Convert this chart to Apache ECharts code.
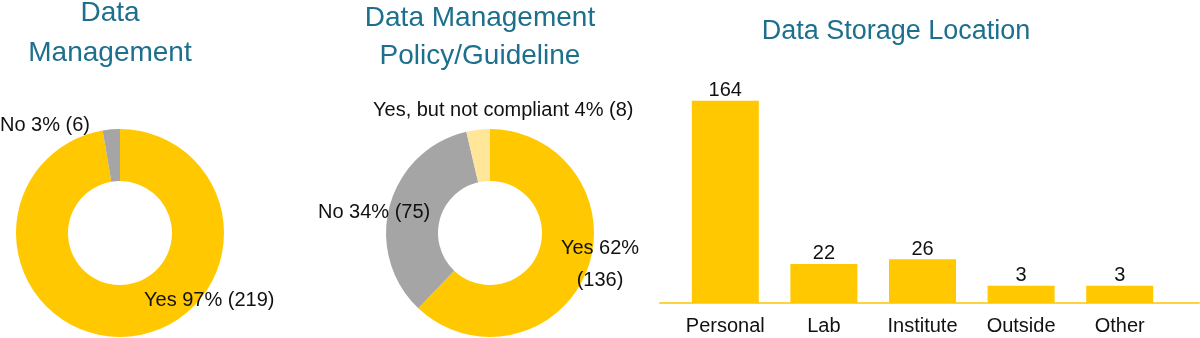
<!DOCTYPE html>
<html><head><meta charset="utf-8">
<script src="https://cdn.jsdelivr.net/npm/echarts@6/dist/echarts.min.js"></script>
<style>html,body{margin:0;padding:0;background:#fff}#c{width:1200px;height:338px}</style>
</head><body><div id="c"></div>
<script>
// ---- data ----
const dmCategories = ['Yes', 'No'];
const dmValues = [219, 6];
const policyCategories = ['Yes', 'No', 'Yes, but not compliant'];
const policyValues = [136, 75, 8];
const storageCategories = ['Personal', 'Lab', 'Institute', 'Outside', 'Other'];
const storageValues = [164, 22, 26, 3, 3];

// ---- styles / layout ----
const FONT = '"Liberation Sans", Arial, sans-serif';
const TEAL = '#1d6f8e';
const YELLOW = '#FFC800';
const GRAY = '#A5A5A5';
const LIGHT = '#FFE699';
const TXT = '#111';

const dmColors = [YELLOW, GRAY];
const policyColors = [YELLOW, GRAY, LIGHT];
const dmLabelPos = [
  {x: 144, y: 300, align: 'left', verticalAlign: 'middle'},
  {x: 0, y: 125, align: 'left', verticalAlign: 'middle'}
];
const policyLabelPos = [
  {x: 600, y: 264, align: 'center', verticalAlign: 'middle'},
  {x: 318, y: 212, align: 'left', verticalAlign: 'middle'},
  {x: 373, y: 110, align: 'left', verticalAlign: 'middle'}
];
const policyBreak = [true, false, false];

function pieData(names, values, colors) {
  return names.map((n, i) => ({name: n, value: values[i], itemStyle: {color: colors[i]}}));
}
function pieFormatter(breaks) {
  return p => p.name + ' ' + Math.round(p.percent) + '%' + (breaks && breaks[p.dataIndex] ? '\n' : ' ') + '(' + p.value + ')';
}
function pieSeries(center, names, values, colors, layout, breaks) {
  return {
    type: 'pie',
    center: center,
    radius: [52, 104],
    startAngle: 90,
    clockwise: true,
    avoidLabelOverlap: false,
    silent: true,
    animation: false,
    data: pieData(names, values, colors),
    label: {
      show: true, position: 'outside', formatter: pieFormatter(breaks),
      fontFamily: FONT, fontSize: 20, color: TXT, lineHeight: 32
    },
    labelLine: {show: false},
    labelLayout: p => layout[p.dataIndex]
  };
}

const titleStyle = (size, lh) => ({fontFamily: FONT, fontSize: size, fontWeight: 'normal', color: TEAL, lineHeight: lh});

const chart = echarts.init(document.getElementById('c'), null, {renderer: 'canvas'});
chart.setOption({
  backgroundColor: '#fff',
  animation: false,
  title: [
    {text: 'Data\nManagement', left: 105, top: -12, textAlign: 'center', textStyle: titleStyle(28, 40)},
    {text: 'Data Management\nPolicy/Guideline', left: 475, top: -6, textAlign: 'center', textStyle: titleStyle(28, 38)},
    {text: 'Data Storage Location', left: 891, top: 8, textAlign: 'center', textStyle: titleStyle(27, 38)}
  ],
  grid: [
    {left: 676, right: 31, top: 82.4, bottom: 35},
    {left: 660, right: 1, top: 82.4, bottom: 35}
  ],
  xAxis: [
    {gridIndex: 0, type: 'category', data: storageCategories,
     axisLine: {show: false}, axisTick: {show: false},
     axisLabel: {interval: 0, fontFamily: FONT, fontSize: 20, color: TXT, margin: 13}},
    {gridIndex: 1, type: 'value', min: 0, max: 1,
     axisLine: {show: true, lineStyle: {color: '#FFD23F', width: 2}},
     axisTick: {show: false}, axisLabel: {show: false}, splitLine: {show: false}}
  ],
  yAxis: [
    {gridIndex: 0, type: 'value', min: -12, max: 180, startValue: -12, show: false},
    {gridIndex: 1, type: 'value', min: 0, max: 1, show: false}
  ],
  series: [
    pieSeries([120, 233], dmCategories, dmValues, dmColors, dmLabelPos, null),
    pieSeries([490, 233], policyCategories, policyValues, policyColors, policyLabelPos, policyBreak),
    {
      type: 'bar', xAxisIndex: 0, yAxisIndex: 0,
      data: storageValues, barWidth: 67, silent: true,
      itemStyle: {color: YELLOW},
      label: {show: true, position: 'top', distance: 0, fontFamily: FONT, fontSize: 20, color: TXT}
    }
  ]
});
</script>
</body></html>
